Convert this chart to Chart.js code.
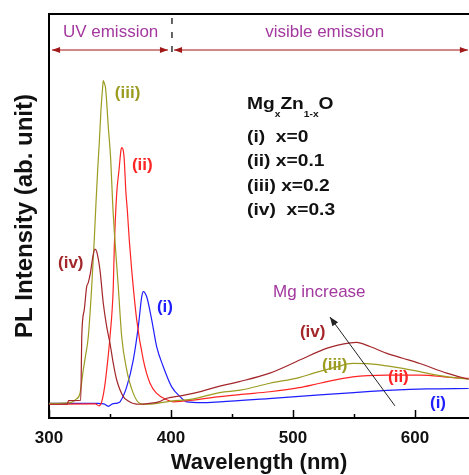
<!DOCTYPE html>
<html>
<head>
<meta charset="utf-8">
<script src="https://cdn.jsdelivr.net/npm/chart.js@4/dist/chart.umd.min.js"></script>
<style>
  html, body { margin: 0; padding: 0; background: #fff; }
  #wrap { width: 469px; height: 475px; }
</style>
</head>
<body>
<div id="wrap"><canvas id="plchart" width="469" height="475"></canvas></div>
<script>
// x labels shown on the wavelength axis
var tickLabels = [300, 400, 500, 600];

// (i) x=0
var wlI  = [300, 340, 345, 348.6, 352, 356, 358.2, 363.7, 369.1, 373.2, 376, 377.3, 380.1, 384.2, 388.3, 393.7, 400.6, 407.4, 412.9, 425, 440, 480, 522, 550, 582, 610, 644];
var intI = [3.6, 3.6, 3.5, 2.9, 3.5, 3.7, 4.0, 7.7, 14.4, 22.6, 30.0, 31.3, 30.0, 24.3, 17.6, 12.7, 7.7, 5.3, 4.0, 3.8, 4.0, 4.8, 5.7, 6.3, 6.9, 7.2, 7.3];

// (ii) x=0.1
var wlII  = [300, 338, 341, 343.2, 345.5, 347.3, 350, 352.7, 353.5, 355.5, 357.4, 359, 359.6, 361.5, 363.1, 364.2, 365.8, 367.8, 371.9, 377.3, 382.8, 388.3, 396.5, 402, 420, 440, 460, 481, 505, 522, 549, 577, 604, 631, 644];
var intII = [3.4, 3.5, 3.0, 4.0, 7.5, 11.9, 20.1, 32.5, 42, 55.6, 61.4, 66.3, 66.9, 64.7, 55.6, 51.5, 44.1, 36.6, 24.3, 14.4, 8.6, 6.1, 4.5, 4.0, 4.5, 5.3, 5.9, 6.5, 7.5, 8.6, 10.2, 10.6, 10.6, 10.0, 9.8];

// (iii) x=0.2
var wlIII  = [300, 318, 322, 325.4, 328.1, 330, 332.2, 335, 337.1, 338.5, 339.9, 341.2, 342.6, 344, 344.5, 345.2, 346.4, 348.6, 350.6, 352.2, 353.8, 356.8, 359.6, 363.7, 369.1, 374.6, 380, 390, 400, 416, 440, 457, 481, 505, 517, 535, 549, 563, 577, 590, 604, 618, 632, 644];
var intIII = [3.6, 3.8, 4.6, 6.1, 11.9, 15.5, 20.1, 32.5, 44.1, 53.1, 61.4, 68.0, 76.2, 82.0, 83.5, 83.0, 81.6, 72.1, 63.9, 53.1, 45, 32.5, 20.1, 11.9, 6.1, 3.6, 3.4, 3.7, 4.2, 4.6, 6.3, 6.9, 8.6, 10.0, 11.1, 12.6, 13.5, 13.4, 12.9, 12.3, 11.5, 10.6, 10.0, 9.6];

// (iv) x=0.3
var wlIV  = [300, 315, 316, 326, 326.9, 329, 330.9, 332.2, 334, 336, 337.7, 339.1, 341.8, 344.5, 347.3, 350, 352.7, 355.5, 360.9, 365, 369.1, 375, 382, 390, 396.5, 410, 425, 440, 456, 481, 506, 528, 547, 552, 563, 577, 590, 604, 626, 644];
var intIV = [3.4, 3.4, 4.3, 4.4, 20.5, 27, 32.5, 33.5, 36, 40, 41.8, 41.2, 36.6, 28.4, 22.6, 18.5, 13.5, 9.4, 5.3, 4.2, 3.6, 3.4, 3.6, 4.0, 4.9, 5.6, 6.6, 7.9, 9.0, 11.1, 14.4, 17.3, 18.6, 18.7, 17.7, 16.0, 14.8, 13.5, 11.1, 9.6];

var cI = '#1e1eff', cII = '#ff2424', cIII = '#9c9c22', cIV = '#a3262b';
var purple = '#a3389f';
var FONT = "Arial, 'Liberation Sans', sans-serif";

function pts(xs, ys) {
  return xs.map(function (v, i) { return { x: v, y: ys[i] }; });
}
function line(label, xs, ys, color) {
  return {
    label: label, data: pts(xs, ys), borderColor: color, borderWidth: 1.2,
    pointRadius: 0, fill: false, cubicInterpolationMode: 'monotone'
  };
}

// annotation positions are in data units (nm, intensity)
var curveLabels = [
  { text: '(iii)', x: 354, y: 80.4, color: cIII },
  { text: '(ii)', x: 368, y: 62.6, color: cII },
  { text: '(i)', x: 388.5, y: 27.5, color: cI },
  { text: '(iv)', x: 307.4, y: 38.4, color: cIV },
  { text: '(iv)', x: 505.7, y: 21.3, color: cIV },
  { text: '(iii)', x: 523.8, y: 13.1, color: cIII },
  { text: '(ii)', x: 577.9, y: 10.1, color: cII },
  { text: '(i)', x: 612.3, y: 3.7, color: cI }
];
var legendLines = ['(i)  x=0', '(ii) x=0.1', '(iii) x=0.2', '(iv)  x=0.3'];

function head(ctx, x0, y0, x1, y1, len, w) {
  var a = Math.atan2(y1 - y0, x1 - x0);
  ctx.beginPath();
  ctx.moveTo(x1, y1);
  ctx.lineTo(x1 - len * Math.cos(a) + w * Math.sin(a), y1 - len * Math.sin(a) - w * Math.cos(a));
  ctx.lineTo(x1 - len * Math.cos(a) - w * Math.sin(a), y1 - len * Math.sin(a) + w * Math.cos(a));
  ctx.closePath();
  ctx.fill();
}

function doubleArrow(ctx, xa, xb, y) {
  ctx.strokeStyle = '#c46060';
  ctx.lineWidth = 1.6;
  ctx.beginPath(); ctx.moveTo(xa, y); ctx.lineTo(xb, y); ctx.stroke();
  ctx.fillStyle = '#a01818';
  head(ctx, xb, y, xa, y, 8, 3);
  head(ctx, xa, y, xb, y, 8, 3);
}

var extras = {
  id: 'extras',
  afterDatasetsDraw: function (chart) {
    var ctx = chart.ctx, a = chart.chartArea, x = chart.scales.x, y = chart.scales.y;
    ctx.save();

    // frame top
    ctx.strokeStyle = '#000'; ctx.lineWidth = 2;
    ctx.beginPath(); ctx.moveTo(a.left - 1, a.top); ctx.lineTo(a.right, a.top); ctx.stroke();

    // inward ticks
    ctx.lineWidth = 1.5;
    x.ticks.forEach(function (t) {
      if (t.value % 50 !== 0) return;
      var px = Math.round(x.getPixelForValue(t.value)) + 0.5;
      var len = t.value % 100 === 0 ? 8 : 4;
      ctx.beginPath(); ctx.moveTo(px, a.bottom); ctx.lineTo(px, a.bottom - len); ctx.stroke();
    });

    // region markers
    var yArr = y.getPixelForValue(91.1);
    doubleArrow(ctx, x.getPixelForValue(302.5), x.getPixelForValue(397.5), yArr);
    doubleArrow(ctx, x.getPixelForValue(402.5), x.getPixelForValue(643.4), yArr);
    ctx.strokeStyle = '#333'; ctx.lineWidth = 1.5; ctx.setLineDash([6, 8]);
    var xd = x.getPixelForValue(400.8);
    ctx.beginPath(); ctx.moveTo(xd, a.top + 4); ctx.lineTo(xd, y.getPixelForValue(89.8)); ctx.stroke();
    ctx.setLineDash([]);

    ctx.fillStyle = purple; ctx.font = '17px ' + FONT;
    ctx.textAlign = 'center'; ctx.textBaseline = 'middle';
    ctx.fillText('UV emission', x.getPixelForValue(350.5), y.getPixelForValue(95.5));
    ctx.fillText('visible emission', x.getPixelForValue(526), y.getPixelForValue(95.5));
    ctx.textAlign = 'left';
    ctx.fillText('Mg increase', x.getPixelForValue(483.6), y.getPixelForValue(31.2));

    // Mg increase arrow
    var ax0 = x.getPixelForValue(583.6), ay0 = y.getPixelForValue(3.0);
    var ax1 = x.getPixelForValue(530.3), ay1 = y.getPixelForValue(25.0);
    ctx.strokeStyle = '#222'; ctx.fillStyle = '#222'; ctx.lineWidth = 1;
    ctx.beginPath(); ctx.moveTo(ax0, ay0); ctx.lineTo(ax1, ay1); ctx.stroke();
    head(ctx, ax0, ay0, ax1, ay1, 9, 3.5);

    // curve labels
    ctx.font = 'bold 17px ' + FONT;
    curveLabels.forEach(function (l) {
      ctx.fillStyle = l.color;
      ctx.fillText(l.text, x.getPixelForValue(l.x), y.getPixelForValue(l.y));
    });

    // composition block (slightly widened like the original)
    var lx = x.getPixelForValue(462.3), ly = y.getPixelForValue(77.7);
    ctx.save();
    ctx.translate(lx, ly);
    ctx.scale(1.13, 1);
    ctx.fillStyle = '#111';
    var cx = 0;
    function put(t, f, dy) {
      ctx.font = f; ctx.fillText(t, cx, dy); cx += ctx.measureText(t).width;
    }
    put('Mg', 'bold 17px ' + FONT, 0);
    put('x', 'bold 9px ' + FONT, 10);
    put('Zn', 'bold 17px ' + FONT, 0);
    put('1-x', 'bold 9px ' + FONT, 10);
    put('O', 'bold 17px ' + FONT, 0);
    ctx.font = 'bold 17px ' + FONT;
    legendLines.forEach(function (t, i) {
      ctx.fillText(t, 0, 33 + i * 24.5);
    });
    ctx.restore();

    ctx.restore();
  }
};

new Chart(document.getElementById('plchart'), {
  type: 'line',
  data: {
    datasets: [
      line('(iv) x=0.3', wlIV, intIV, cIV),
      line('(iii) x=0.2', wlIII, intIII, cIII),
      line('(ii) x=0.1', wlII, intII, cII),
      line('(i) x=0', wlI, intI, cI)
    ]
  },
  options: {
    responsive: false,
    animation: false,
    parsing: false,
    layout: { padding: { top: 14, right: 0, left: 0, bottom: 0 } },
    plugins: { legend: { display: false }, tooltip: { enabled: false } },
    scales: {
      x: {
        type: 'linear', min: 300, max: 644.3,
        grid: { display: false },
        border: { display: true, color: '#000', width: 2 },
        ticks: {
          stepSize: 50, includeBounds: false, autoSkip: false, maxRotation: 0, padding: 2,
          color: '#111', font: { family: FONT, size: 17, weight: 'bold' },
          callback: function (v) { return tickLabels.indexOf(v) >= 0 ? String(v) : ''; }
        },
        title: {
          display: true, text: 'Wavelength (nm)', color: '#111',
          font: { family: FONT, size: 22, weight: 'bold' }, padding: { top: 0, bottom: -1 }
        },
        afterFit: function (s) { s.height = 57; }
      },
      y: {
        min: 0, max: 100,
        grid: { display: false },
        border: { display: true, color: '#000', width: 2 },
        ticks: { display: false },
        title: {
          display: true, text: 'PL Intensity (ab. unit)', color: '#111',
          font: { family: FONT, size: 24, weight: 'bold' }, padding: { top: 11, bottom: 0 }
        },
        afterFit: function (s) { s.width = 49; }
      }
    }
  },
  plugins: [extras]
});
</script>
</body>
</html>
